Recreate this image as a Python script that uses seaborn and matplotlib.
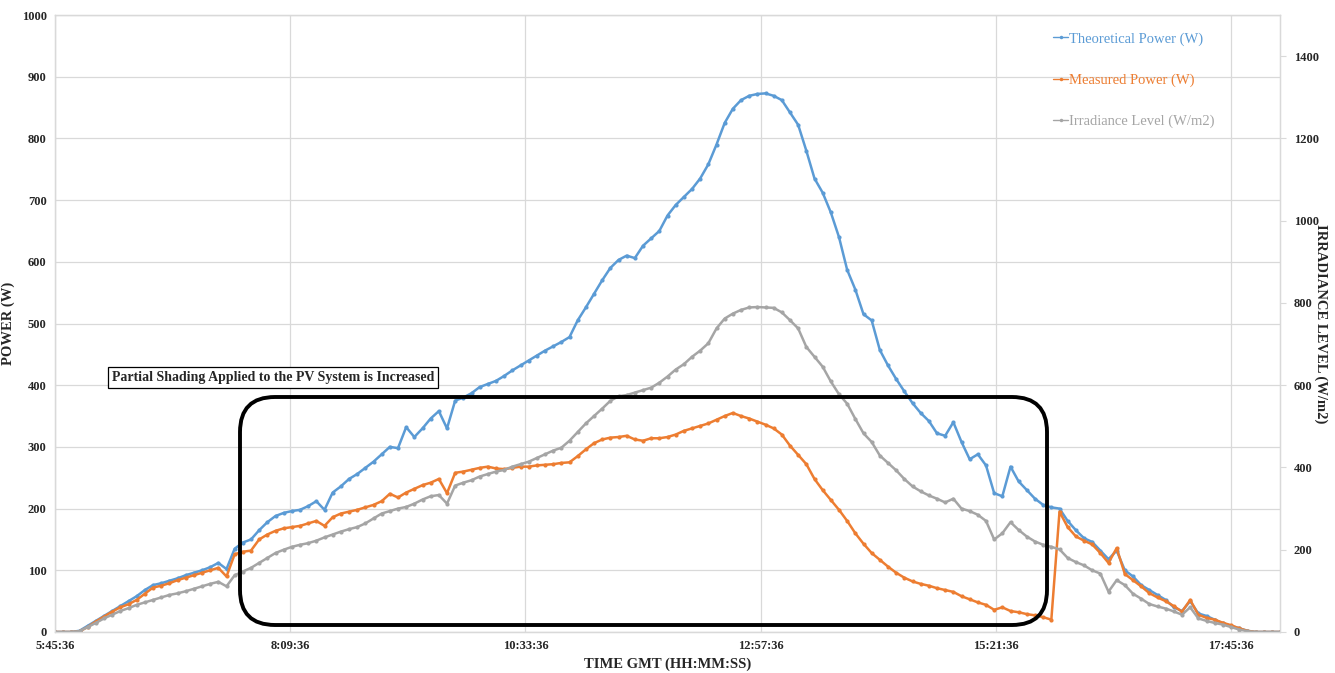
import matplotlib
matplotlib.use("Agg")
import matplotlib.pyplot as plt
from matplotlib.patches import FancyBboxPatch
import seaborn as sns
import pandas as pd

# sample times: every 5 minutes from 5:45:36 to 18:15:36
start_time = "2000-01-01 05:45:36"
n_samples = 151

theoretical_power = [
    0, 0, 0, 2, 10, 18, 26, 34, 42, 50,
    58, 68, 76, 79, 83, 87, 92, 96, 100, 105,
    112, 102, 135, 145, 150, 165, 178, 188, 193, 196,
    198, 204, 212, 198, 226, 236, 248, 256, 266, 276,
    288, 300, 298, 332, 316, 330, 346, 358, 330, 375,
    380, 387, 397, 402, 407, 415, 424, 432, 440, 448,
    456, 463, 470, 478, 505, 526, 548, 570, 590, 603,
    610, 606, 626, 638, 650, 675, 692, 705, 718, 735,
    758, 790, 825, 848, 862, 869, 872, 873, 869, 862,
    842, 822, 780, 735, 712, 680, 640, 587, 555, 515,
    505, 457, 432, 410, 390, 371, 355, 342, 322, 318,
    340, 308, 280, 288, 270, 225, 220, 268, 244, 230,
    216, 206, 202, 200, 180, 165, 152, 146, 132, 118,
    132, 100, 90, 76, 68, 60, 52, 40, 34, 50,
    30, 26, 20, 14, 10, 6, 2, 0, 0, 0,
    0,
]

measured_power = [
    0, 0, 0, 1, 8, 17, 25, 33, 40, 45,
    52, 62, 72, 75, 79, 84, 88, 92, 96, 100,
    104, 90, 126, 130, 132, 150, 158, 164, 168, 170,
    172, 176, 180, 172, 186, 192, 195, 198, 202, 206,
    212, 224, 218, 226, 232, 238, 242, 248, 225, 258,
    260, 263, 266, 268, 265, 264, 266, 268, 268, 270,
    271, 272, 274, 275, 285, 296, 306, 312, 315, 316,
    318, 312, 310, 314, 314, 316, 320, 326, 330, 334,
    338, 344, 350, 355, 350, 346, 341, 336, 330, 320,
    302, 287, 272, 248, 230, 214, 198, 180, 160, 143,
    128, 117, 106, 96, 88, 82, 78, 75, 71, 68,
    65, 58, 53, 48, 44, 36, 40, 34, 32, 29,
    27, 24, 20, 195, 170, 155, 148, 142, 128, 112,
    136, 94, 84, 74, 63, 56, 50, 42, 33, 52,
    28, 23, 20, 15, 11, 6, 2, 0, 0, 0,
    0,
]

irradiance = [
    0, 0, 0, 2, 12, 22, 33, 42, 51, 58,
    66, 72, 78, 84, 90, 94, 99, 105, 111, 117,
    122, 111, 138, 147, 156, 168, 180, 192, 200, 207,
    212, 216, 222, 230, 237, 244, 250, 255, 264, 276,
    288, 294, 300, 304, 312, 322, 330, 333, 312, 356,
    363, 369, 378, 384, 390, 394, 402, 408, 414, 423,
    432, 441, 448, 465, 486, 507, 525, 543, 562, 573,
    576, 582, 588, 594, 606, 621, 638, 651, 669, 684,
    702, 738, 762, 774, 783, 789, 790, 789, 788, 777,
    758, 738, 693, 669, 645, 609, 578, 555, 518, 483,
    462, 429, 411, 393, 372, 354, 342, 332, 324, 315,
    324, 300, 294, 285, 270, 225, 240, 267, 248, 232,
    220, 212, 207, 201, 180, 170, 162, 150, 142, 98,
    126, 114, 93, 81, 68, 62, 57, 50, 42, 60,
    33, 27, 22, 18, 12, 6, 2, 0, 0, 0,
    0,
]

tick_labels = ["5:45:36", "8:09:36", "10:33:36", "12:57:36", "15:21:36", "17:45:36"]
end_time = "2000-01-01 18:15:36"

BLUE = "#5B9BD5"
ORANGE = "#ED7D31"
GRAY = "#A5A5A5"
GRID = "#D9D9D9"

df = pd.DataFrame({
    "time": pd.date_range(start_time, periods=n_samples, freq="5min"),
    "theoretical": theoretical_power,
    "measured": measured_power,
    "irradiance": irradiance,
})

sns.set_style("white")
plt.rcParams["font.family"] = ["Liberation Serif", "DejaVu Serif"]

fig = plt.figure(figsize=(13.35, 6.73), dpi=100)
ax = fig.add_axes([55 / 1335, 1 - 632 / 673, 1225 / 1335, 617 / 673])
ax2 = ax.twinx()

line_kw = dict(marker="o", markersize=3, markeredgewidth=0, linewidth=1.8)
sns.lineplot(data=df, x="time", y="theoretical", ax=ax, color=BLUE,
             label="Theoretical Power (W)", legend=False, zorder=3, **line_kw)
sns.lineplot(data=df, x="time", y="measured", ax=ax, color=ORANGE,
             label="Measured Power (W)", legend=False, zorder=4, **line_kw)
sns.lineplot(data=df, x="time", y="irradiance", ax=ax2, color=GRAY,
             label="Irradiance Level (W/m2)", legend=False, zorder=2, **line_kw)

# axes ranges and ticks
ax.set_ylim(0, 1000)
ax.set_yticks(range(0, 1001, 100))
ax2.set_ylim(0, 1500)
ax2.set_yticks(range(0, 1401, 200))
tick_pos = [pd.Timestamp("2000-01-01 " + t) for t in tick_labels]
ax.set_xlim(pd.Timestamp(start_time), pd.Timestamp(end_time))
ax.set_xticks(tick_pos)
ax.set_xticklabels(tick_labels)

ax.grid(True, color=GRID, linewidth=0.9)
ax.set_axisbelow(True)
ax2.grid(False)
for a in (ax, ax2):
    for s in a.spines.values():
        s.set_color(GRID)
        s.set_linewidth(0.9)

ax.tick_params(axis="both", length=0, labelsize=9, pad=6)
ax2.tick_params(axis="y", length=4, color=GRID, labelsize=9, pad=6)
for lab in ax.get_xticklabels() + ax.get_yticklabels() + ax2.get_yticklabels():
    lab.set_fontweight("bold")

ax.set_xlabel("TIME GMT (HH:MM:SS)", fontsize=10.5, fontweight="bold", labelpad=4)
ax.set_ylabel("POWER (W)", fontsize=10.5, fontweight="bold")
ax.yaxis.set_label_coords(-0.033, 0.5)
ax2.set_ylabel("IRRADIANCE LEVEL (W/m2)", fontsize=10.5, fontweight="bold",
               rotation=-90, va="center")
ax2.yaxis.set_label_coords(1.033, 0.5)

# legend with coloured text
h1, l1 = ax.get_legend_handles_labels()
h2, l2 = ax2.get_legend_handles_labels()
leg = ax2.legend(h1 + h2, l1 + l2, loc="upper left", bbox_to_anchor=(0.815, 0.972),
                 frameon=False, fontsize=10.5, labelspacing=1.9, handlelength=1.0,
                 handletextpad=0.1, borderpad=0, borderaxespad=0, labelcolor="linecolor")
for h in leg.legend_handles:
    h.set_linewidth(1.0)
    h.set_markersize(2.5)

# annotation box and shaded region outline
ax.text(0.178, 0.413, "Partial Shading Applied to the PV System is Increased",
        transform=ax.transAxes, ha="center", va="center", fontsize=10,
        fontweight="bold", zorder=6,
        bbox=dict(boxstyle="square,pad=0.3", facecolor="white", edgecolor="black",
                  linewidth=0.9))
box = FancyBboxPatch((2.40, 0.48), 8.07, 2.28,
                     boxstyle="round,pad=0,rounding_size=0.35",
                     transform=fig.dpi_scale_trans, fill=False,
                     edgecolor="black", linewidth=2.8, zorder=7)
fig.add_artist(box)

fig.savefig("out.png", dpi=100)
